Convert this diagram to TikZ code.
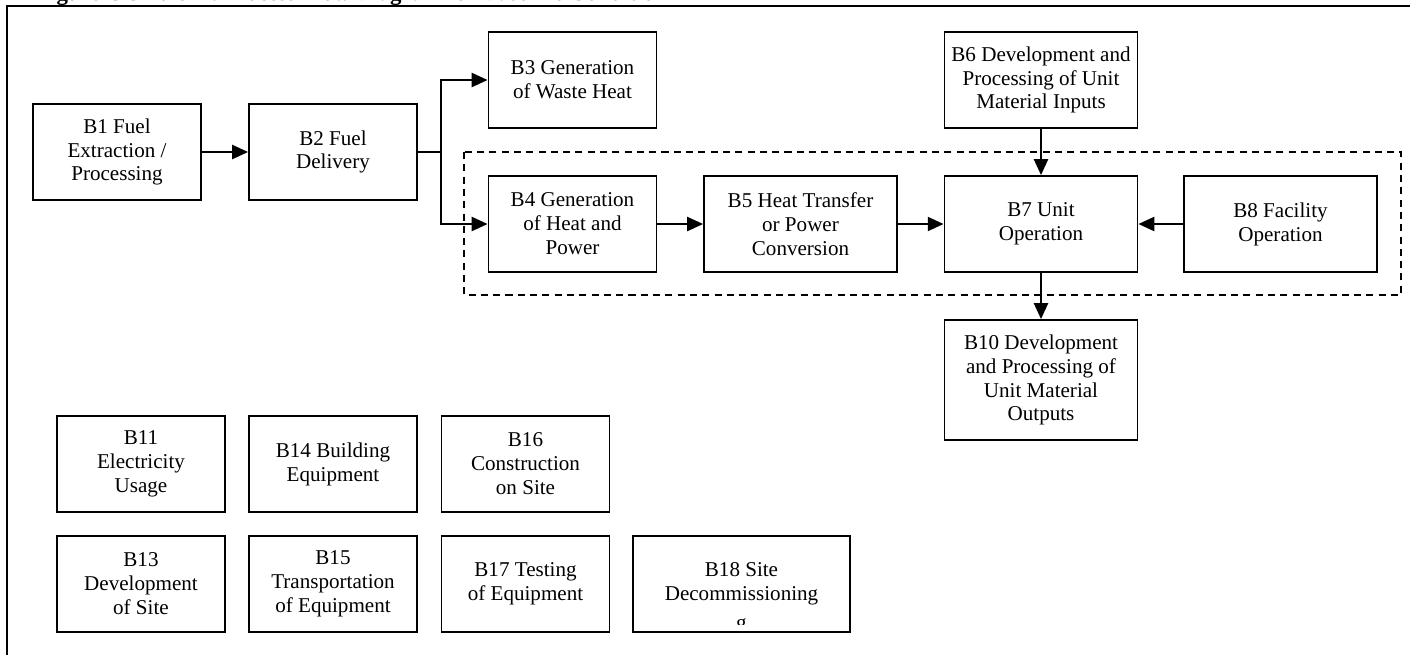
\documentclass[tikz,border=0pt]{standalone}
\usepackage{fontspec}
\setmainfont{Liberation Serif}
\usetikzlibrary{arrows.meta}

\begin{document}
\begin{tikzpicture}[x=0.02cm,y=-0.02cm,
	font=\fontsize{12}{13.6}\selectfont,
	blk/.style={draw, line width=1.1pt, align=center, inner sep=0pt,
		minimum width=3.36cm, minimum height=1.92cm},
	wide/.style={blk, minimum width=3.86cm},
	flow/.style={line width=1.1pt, -{Triangle[length=9pt,width=8pt]}}]
	\clip (0,0) rectangle (1410,654);
	\draw[line width=1.1pt] (1410,6) -- (7,6) -- (7,660);
	\node[anchor=base west, font=\fontsize{13}{15}\selectfont\bfseries] (title) at (30,0)
		{Figure GG-1. Unit Process Flow Diagram for Baseline Condition};
	\node[blk] (b1) at (117,152) {B1 Fuel\\Extraction /\\Processing};
	\node[blk] (b2) at (333,152) {B2 Fuel\\Delivery};
	\node[blk] (b3) at (572.5,80) {B3 Generation\\of Waste Heat};
	\node[blk] (b4) at (572.5,224) {B4 Generation\\of Heat and\\Power};
	\node[wide] (b5) at (800.5,224) {B5 Heat Transfer\\or Power\\Conversion};
	\node[wide] (b6) at (1041,80) {B6 Development and\\Processing of Unit\\Material Inputs};
	\node[wide] (b7) at (1041,224) {B7 Unit\\Operation};
	\node[wide] (b8) at (1280.5,224) {B8 Facility\\Operation};
	\node[wide, minimum height=2.4cm] (b10) at (1041,380)
		{B10 Development\\and Processing of\\Unit Material\\Outputs};
	\draw[line width=1.1pt, dashed, dash pattern=on 4pt off 3pt] (464,152) rectangle (1401,295);
	\coordinate (split) at (441,152);
	\draw[flow] (b1) -- (b2);
	\draw[line width=1.1pt] (b2) -- (split);
	\draw[flow] (split) |- (b3);
	\draw[flow] (split) |- (b4);
	\draw[flow] (b4) -- (b5);
	\draw[flow] (b5) -- (b7);
	\draw[flow] (b8) -- (b7);
	\draw[flow] (b6) -- (b7);
	\draw[flow] (b7) -- (b10);
	\node[blk] (b11) at (141,464) {B11\\Electricity\\Usage};
	\node[blk] (b14) at (333,464) {B14 Building\\Equipment};
	\node[blk] (b16) at (525.5,464) {B16\\Construction\\on Site};
	\node[blk] (b13) at (141,584) {B13\\Development\\of Site};
	\node[blk] (b15) at (333,584) {B15\\Transportation\\of Equipment};
	\node[blk] (b17) at (525.5,584) {B17 Testing\\of Equipment};
	\node[blk, minimum width=4.34cm] (b18) at (741.5,584) {B18 Site\\Decommissioning};
	\begin{scope}
		\clip (634,540) rectangle (849,624);
		\node[anchor=base] (b18g) at (741.5,629) {g};
	\end{scope}
\end{tikzpicture}
\end{document}
